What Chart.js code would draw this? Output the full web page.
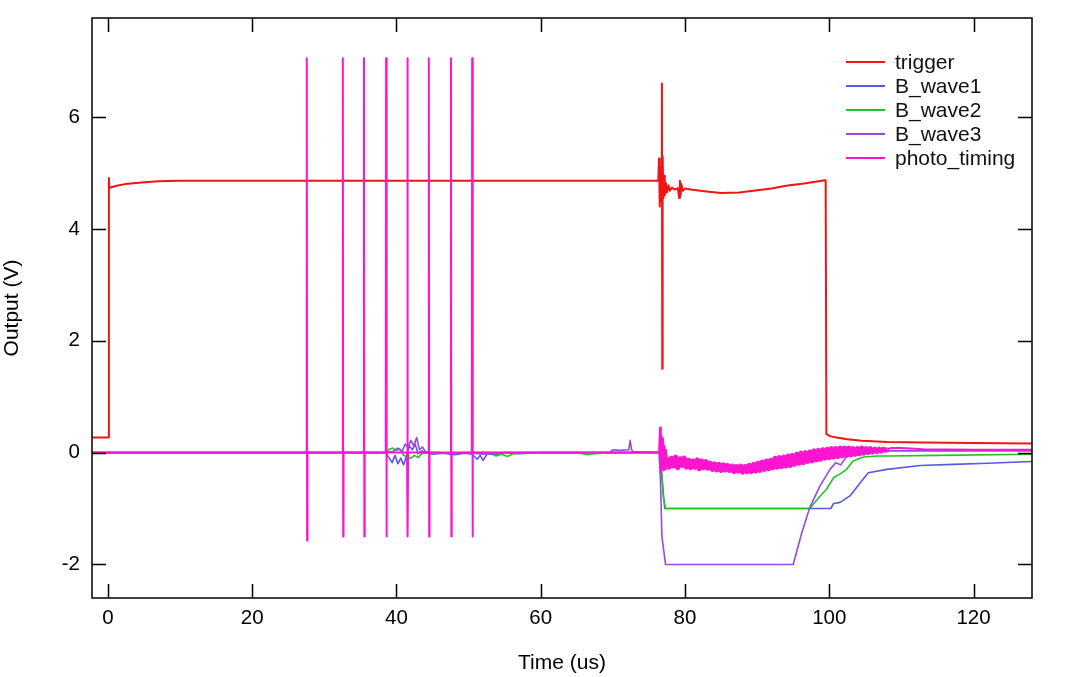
<!DOCTYPE html>
<html>
<head>
<meta charset="utf-8">
<script src="https://cdn.jsdelivr.net/npm/chart.js@4/dist/chart.umd.min.js"></script>
<style>
  html, body { margin: 0; padding: 0; background: #fff; }
  #wrap { width: 1080px; height: 677px; }
</style>
</head>
<body>
<div id="wrap"><canvas id="scopeChart" width="1080" height="677"></canvas></div>
<script>
// ── axis ranges and tick labels ──
const xRange = [-2.2, 128.1];
const yRange = [-2.6, 7.77];
const xTickStep = 20;
const yTickStep = 2;

// ── trigger (red) ──
const triggerT = [
  -2.2, 0.1, 0.14, 0.2, 0.4, 1.2, 2.4, 4.7, 7, 10,
  14.5, 30, 50, 70, 76.0, 76.3, 76.4, 76.5, 76.6, 76.7,
  76.8, 76.85, 76.9, 77.0, 77.1, 77.2, 77.35, 77.5, 77.7, 77.9,
  78.2, 78.6, 79.0, 79.2, 79.3, 79.4, 79.5, 79.7, 80.0, 81,
  83, 85, 87.5, 89.5, 92, 94, 96.5, 99.4, 99.5, 99.6,
  100.2, 101, 102.5, 104.5, 108, 113, 120, 128.2
];
const triggerV = [
  0.27, 0.27, 4.91, 4.73, 4.74, 4.77, 4.80, 4.83, 4.85, 4.86,
  4.86, 4.86, 4.86, 4.86, 4.86, 4.86, 5.26, 4.40, 5.10, 4.50,
  6.60, 1.50, 5.30, 4.55, 4.95, 4.60, 4.82, 4.65, 4.78, 4.68,
  4.74, 4.70, 4.73, 4.55, 4.86, 4.60, 4.80, 4.68, 4.72, 4.70,
  4.67, 4.64, 4.65, 4.68, 4.72, 4.77, 4.81, 4.87, 4.87, 0.33,
  0.29, 0.27, 0.24, 0.21, 0.19, 0.18, 0.17, 0.16
];

// ── B_wave1 (blue) ──
const wave1T = [
  -2.2, 38.5, 39.0, 39.4, 39.8, 40.2, 40.6, 41.0, 41.4, 41.8,
  42.2, 42.6, 43.0, 43.5, 44.0, 45, 46.5, 48, 49.5, 50.5,
  51.2, 51.6, 52.0, 52.6, 53.5, 55, 57, 60, 65, 70,
  72, 76.5, 76.7, 76.9, 77.2, 100.2, 100.6, 101.5, 102.9, 104.3,
  105.4, 108, 112.6, 117.2, 122, 128.2
];
const wave1V = [
  0, 0, -0.10, -0.18, -0.05, -0.20, -0.10, -0.22, -0.05, 0.12,
  0.05, 0.15, -0.02, 0.03, 0, -0.03, -0.01, -0.04, -0.01, -0.03,
  -0.12, -0.05, -0.14, -0.02, -0.04, 0, -0.02, 0, 0, 0,
  0, 0, -0.30, -0.60, -1.00, -1.00, -0.91, -0.89, -0.77, -0.54,
  -0.36, -0.30, -0.23, -0.21, -0.19, -0.16
];

// ── B_wave2 (green) ──
const wave2T = [
  -2.2, 38.5, 39.0, 39.5, 40.0, 40.5, 41.0, 41.5, 42.0, 42.5,
  43.0, 43.5, 44.5, 46, 50, 53, 53.8, 54.6, 55.4, 56.2,
  58, 62, 65, 66.5, 67.5, 70, 76.5, 76.8, 77.0, 77.3,
  97.3, 98.7, 99.6, 100.6, 101.5, 102.4, 103.3, 104.7, 106.6, 108,
  115, 128.2
];
const wave2V = [
  0, 0, 0.06, 0.08, 0.04, 0.06, -0.05, -0.08, -0.10, -0.05,
  -0.09, -0.02, 0, -0.01, 0, 0, -0.06, -0.03, -0.07, -0.02,
  0, 0, 0, -0.04, -0.02, 0, 0, -0.40, -0.80, -1.00,
  -1.00, -0.78, -0.66, -0.45, -0.38, -0.30, -0.15, -0.08, -0.06, -0.06,
  -0.05, -0.03
];

// ── B_wave3 (purple) ──
const wave3T = [
  -2.2, 38.5, 39.5, 40.2, 40.8, 41.2, 41.6, 42.0, 42.4, 42.8,
  43.2, 43.6, 44.0, 44.5, 46, 48, 50, 52, 55, 60,
  66, 69.5, 70.0, 71, 72.2, 72.4, 72.6, 72.8, 76.4, 76.6,
  76.8, 77.3, 95.0, 96.2, 97.3, 98.7, 100.1, 100.9, 101.6, 102.4,
  104.7, 107, 112, 120, 128.2
];
const wave3V = [
  0, 0, 0.02, 0.08, 0.02, 0.15, 0.10, 0.22, 0.12, 0.27,
  0.05, 0.10, 0.02, 0, 0, -0.02, 0, -0.03, 0, 0,
  0, 0, 0.05, 0.04, 0.05, 0.22, 0.05, 0.02, 0, -0.50,
  -1.50, -2.00, -2.00, -1.43, -0.98, -0.60, -0.30, -0.18, -0.22, -0.07,
  -0.02, 0.03, 0.03, 0.03, 0.03
];

// ── photo_timing (magenta) ──
// trigger pulses: time, peak, dip
const photoSpikeT = [27.57, 32.57, 35.5, 38.57, 41.52, 44.49, 47.56, 50.5];
const photoSpikeHigh = [7.05, 7.05, 7.05, 7.05, 7.05, 7.05, 7.05, 7.05];
const photoSpikeLow = [-1.57, -1.5, -1.5, -1.5, -1.5, -1.5, -1.5, -1.5];

// noisy part after the shot
const photoNoiseT = [
  76.4, 76.55, 76.65, 76.75, 76.85, 76.95, 77.05, 77.15, 77.25, 77.35,
  77.5, 77.8, 78.1, 78.4, 78.7, 79.0, 79.3, 79.6, 79.9, 80.2,
  80.5, 80.8, 81.1, 81.4, 81.7, 82.0, 82.3, 82.6, 82.9, 83.2,
  83.5, 83.8, 84.1, 84.4, 84.7, 85.0, 85.3, 85.6, 85.9, 86.2,
  86.5, 86.8, 87.1, 87.4, 87.7, 88.0, 88.3, 88.6, 88.9, 89.2,
  89.5, 89.8, 90.1, 90.4, 90.7, 91.0, 91.3, 91.6, 91.9, 92.2,
  92.5, 92.8, 93.1, 93.4, 93.7, 94.0, 94.3, 94.6, 94.9, 95.2,
  95.5, 95.8, 96.1, 96.4, 96.7, 97.0, 97.3, 97.6, 97.9, 98.2,
  98.5, 98.8, 99.1, 99.4, 99.7, 100.0, 100.3, 100.6, 100.9, 101.2,
  101.5, 101.8, 102.1, 102.4, 102.7, 103.0, 103.3, 103.6, 103.9, 104.2,
  104.5, 104.8, 105.1, 105.4, 105.7, 106.0, 106.3, 106.6, 106.9, 107.2,
  107.5, 107.8, 108.1, 108.5, 110, 113, 120, 128.2
];
const photoNoiseV = [
  0, 0.45, -0.35, 0.30, -0.30, 0.25, -0.32, 0.12, -0.30, 0.05,
  -0.09, -0.26, -0.10, -0.24, -0.08, -0.27, -0.11, -0.23, -0.10, -0.26,
  -0.14, -0.27, -0.15, -0.26, -0.13, -0.29, -0.15, -0.27, -0.16, -0.28,
  -0.19, -0.30, -0.20, -0.31, -0.21, -0.32, -0.22, -0.31, -0.23, -0.32,
  -0.24, -0.34, -0.25, -0.33, -0.24, -0.35, -0.25, -0.34, -0.23, -0.34,
  -0.21, -0.33, -0.19, -0.32, -0.17, -0.30, -0.15, -0.29, -0.14, -0.27,
  -0.10, -0.26, -0.09, -0.25, -0.08, -0.24, -0.06, -0.23, -0.05, -0.21,
  -0.03, -0.19, -0.01, -0.18, 0.00, -0.16, 0.01, -0.15, 0.03, -0.13,
  0.04, -0.12, 0.05, -0.10, 0.06, -0.09, 0.07, -0.08, 0.07, -0.07,
  0.08, -0.06, 0.08, -0.05, 0.08, -0.04, 0.07, -0.03, 0.07, -0.02,
  0.08, -0.01, 0.07, 0.00, 0.07, 0.01, 0.06, 0.02, 0.06, 0.03,
  0.06, 0.04, 0.06, 0.08, 0.08, 0.06, 0.05, 0.05
];

// pair time + value arrays into points
function zip(ts, vs) {
  return ts.map((t, i) => ({ x: t, y: vs[i] }));
}

function buildPhoto() {
  const pts = [{ x: xRange[0], y: 0 }];
  photoSpikeT.forEach((t, i) => {
    pts.push({ x: t - 0.05, y: 0 });
    pts.push({ x: t, y: photoSpikeHigh[i] });
    pts.push({ x: t + 0.05, y: photoSpikeLow[i] });
    pts.push({ x: t + 0.1, y: 0 });
  });
  return pts.concat(zip(photoNoiseT, photoNoiseV));
}

const FONT = '"Liberation Sans", Arial, sans-serif';

// frame with inward tick marks on all four sides
const frameTicks = {
  id: 'frameTicks',
  afterDatasetsDraw(chart) {
    const { ctx, chartArea: a, scales } = chart;
    const len = 14;
    ctx.save();
    ctx.strokeStyle = '#000';
    ctx.lineWidth = 1.5;
    ctx.beginPath();
    scales.x.ticks.forEach(t => {
      const px = Math.round(scales.x.getPixelForValue(t.value)) + 0.5;
      ctx.moveTo(px, a.bottom); ctx.lineTo(px, a.bottom - len);
      ctx.moveTo(px, a.top); ctx.lineTo(px, a.top + len);
    });
    scales.y.ticks.forEach(t => {
      const py = Math.round(scales.y.getPixelForValue(t.value)) + 0.5;
      ctx.moveTo(a.left, py); ctx.lineTo(a.left + len, py);
      ctx.moveTo(a.right, py); ctx.lineTo(a.right - len, py);
    });
    ctx.stroke();
    ctx.strokeRect(a.left, a.top, a.right - a.left, a.bottom - a.top);
    ctx.restore();
  }
};

// legend inside the plot, upper right
const insideLegend = {
  id: 'insideLegend',
  afterDraw(chart) {
    const ctx = chart.ctx;
    ctx.save();
    ctx.font = '21px ' + FONT;
    ctx.textBaseline = 'middle';
    ctx.textAlign = 'left';
    chart.data.datasets.forEach((ds, i) => {
      const y = 62 + i * 24;
      ctx.strokeStyle = ds.borderColor;
      ctx.lineWidth = 2;
      ctx.beginPath();
      ctx.moveTo(846, y);
      ctx.lineTo(885, y);
      ctx.stroke();
      ctx.fillStyle = '#111';
      ctx.fillText(ds.label, 895, y + 1);
    });
    ctx.restore();
  }
};

function line(label, data, color, order, width) {
  return {
    label, data,
    borderColor: color,
    borderWidth: width,
    borderJoinStyle: 'round',
    pointRadius: 0,
    tension: 0,
    fill: false,
    order
  };
}

// photo_timing noise drawn thicker so the zigzag reads as a solid band
const photo = line('photo_timing', buildPhoto(), '#ff14d2', 0, 2);
photo.segment = {
  borderWidth: c => (c.p0.parsed.x >= 77.4 && c.p1.parsed.x <= 108.2) ? 5 : undefined
};

new Chart(document.getElementById('scopeChart'), {
  type: 'line',
  data: {
    datasets: [
      line('trigger', zip(triggerT, triggerV), '#f01414', 1, 2),
      line('B_wave1', zip(wave1T, wave1V), '#5858e6', 4, 1.6),
      line('B_wave2', zip(wave2T, wave2V), '#22c322', 3, 1.6),
      line('B_wave3', zip(wave3T, wave3V), '#9848e0', 2, 1.6),
      photo
    ]
  },
  options: {
    responsive: false,
    animation: false,
    parsing: false,
    layout: { padding: { top: 18, right: 48, left: 0, bottom: 0 } },
    plugins: {
      legend: { display: false },
      tooltip: { enabled: false }
    },
    scales: {
      x: {
        type: 'linear',
        min: xRange[0],
        max: xRange[1],
        grid: { display: false, drawTicks: false },
        border: { display: false },
        ticks: {
          stepSize: xTickStep,
          includeBounds: false,
          padding: 8,
          color: '#000',
          font: { family: FONT, size: 20.5 }
        },
        title: {
          display: true,
          text: 'Time (us)',
          color: '#000',
          padding: { top: 0, bottom: 1 },
          font: { family: FONT, size: 21 }
        },
        afterFit(scale) {
          scale.height = 79;
          scale.paddingLeft = 0;
          scale.paddingRight = 0;
        }
      },
      y: {
        type: 'linear',
        min: yRange[0],
        max: yRange[1],
        grid: { display: false, drawTicks: false },
        border: { display: false },
        ticks: {
          stepSize: yTickStep,
          includeBounds: false,
          padding: 12,
          color: '#000',
          font: { family: FONT, size: 20.5 }
        },
        title: {
          display: true,
          text: 'Output (V)',
          color: '#000',
          padding: { top: 0, bottom: 0 },
          font: { family: FONT, size: 21 }
        },
        afterFit(scale) {
          scale.width = 92;
          scale.paddingTop = 0;
          scale.paddingBottom = 0;
        }
      }
    }
  },
  plugins: [frameTicks, insideLegend]
});
</script>
</body>
</html>
